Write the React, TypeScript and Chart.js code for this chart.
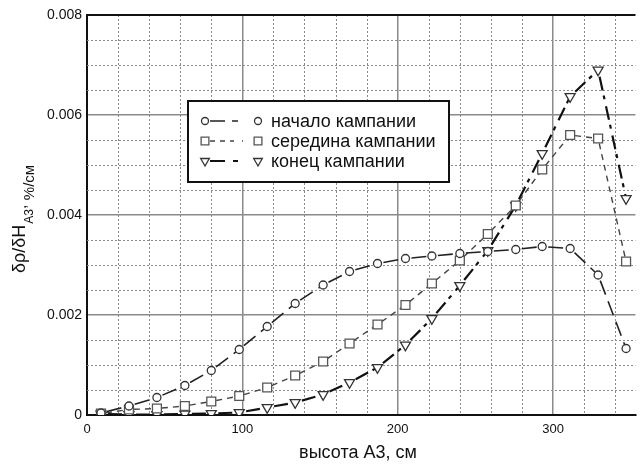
import React, { useEffect, useRef } from 'react';
import { Chart, registerables } from 'chart.js';

Chart.register(...registerables);

// Heights along the A3 zone, cm
const heights = [9, 27, 45, 63, 80, 98, 116, 134, 152, 169, 187, 205, 222, 240, 258, 276, 293, 311, 329, 347];

// dρ/dH_A3 for the three stages of the campaign, %/cm
const startCampaign = [0.00004, 0.00018, 0.00035, 0.00059, 0.00089, 0.00131, 0.00177, 0.00223, 0.0026, 0.00287, 0.00303, 0.00313, 0.00318, 0.00323, 0.00327, 0.00331, 0.00337, 0.00333, 0.0028, 0.00133];
const midCampaign = [0.00003, 0.00011, 0.00013, 0.00018, 0.00027, 0.00038, 0.00055, 0.00079, 0.00107, 0.00143, 0.00181, 0.0022, 0.00263, 0.00309, 0.00362, 0.00419, 0.00491, 0.0056, 0.00553, 0.00307];
const endCampaign = [0.00002, 0.00001, 0.00001, 0.00002, 0.00003, 0.00005, 0.00015, 0.00025, 0.00041, 0.00065, 0.00095, 0.0014, 0.00193, 0.00259, 0.00329, 0.00419, 0.00523, 0.00637, 0.0069, 0.00433];

const seriesNames = ['начало кампании', 'середина кампании', 'конец кампании'];

const xTicks = [0, 100, 200, 300];
const yTicks = [0, 0.002, 0.004, 0.006, 0.008];
const xMinorStep = 20;
const yMinorStep = 0.0005;

const FONT = 'Arial, "Liberation Sans", sans-serif';
const INK = '#111';
const GRID = '#8a8a8a';

type Marker = 'circle' | 'rect' | 'triangleDown';

const seriesStyles = [
  { marker: 'circle' as Marker, radius: 4, line: '#222', lineWidth: 1.6, dash: [15, 7], dashLead: 6, point: '#333', legendDash: [15, 7, 6, 200] },
  { marker: 'rect' as Marker, radius: 6.3, line: '#444', lineWidth: 1.4, dash: [6, 5], dashLead: 5, point: '#555', legendDash: [5, 5, 5, 5, 4, 8, 1, 200] },
  { marker: 'triangleDown' as Marker, radius: 5.8, line: '#111', lineWidth: 2.2, dash: [14, 5, 4, 7], dashLead: 7, point: '#333', legendDash: [15, 8, 5, 200] },
];

function drawMarker(ctx: CanvasRenderingContext2D, kind: Marker, x: number, y: number, r: number, color: string) {
  ctx.save();
  ctx.setLineDash([]);
  ctx.fillStyle = '#fff';
  ctx.strokeStyle = color;
  ctx.lineWidth = 1.3;
  ctx.beginPath();
  if (kind === 'circle') {
    ctx.arc(x, y, r, 0, Math.PI * 2);
  } else if (kind === 'rect') {
    const s = r * Math.SQRT1_2;
    ctx.rect(x - s, y - s, 2 * s, 2 * s);
  } else {
    const w = r * Math.cos(Math.PI / 6);
    ctx.moveTo(x, y + r);
    ctx.lineTo(x - w, y - r / 2);
    ctx.lineTo(x + w, y - r / 2);
    ctx.closePath();
  }
  ctx.fill();
  ctx.stroke();
  ctx.restore();
}

const decorPlugin = {
  id: 'decor',
  beforeDatasetsDraw(chart: any) {
    const { ctx, chartArea: a, scales } = chart;
    const x = scales.x;
    const y = scales.y;
    ctx.save();
    // dotted minor grid
    ctx.strokeStyle = GRID;
    ctx.lineWidth = 1;
    ctx.setLineDash([2, 2]);
    for (let i = 1; i * xMinorStep < x.max; i++) {
      const v = i * xMinorStep;
      if (v % 100 === 0) continue;
      const px = Math.round(x.getPixelForValue(v)) + 0.5;
      ctx.beginPath();
      ctx.moveTo(px, a.top);
      ctx.lineTo(px, a.bottom);
      ctx.stroke();
    }
    for (let i = 1; i * yMinorStep < y.max - 1e-9; i++) {
      if (i % 4 === 0) continue;
      const py = Math.round(y.getPixelForValue(i * yMinorStep)) + 0.5;
      ctx.beginPath();
      ctx.moveTo(a.left, py);
      ctx.lineTo(a.right, py);
      ctx.stroke();
    }
    // frame line along the top
    ctx.setLineDash([]);
    ctx.strokeStyle = INK;
    ctx.lineWidth = 2;
    ctx.beginPath();
    ctx.moveTo(a.left, a.top);
    ctx.lineTo(a.right, a.top);
    ctx.stroke();
    ctx.restore();
  },
  afterDatasetsDraw(chart: any) {
    const { ctx, chartArea: a } = chart;
    ctx.save();

    // legend box
    const bx = a.left + 101;
    const by = a.top + 86;
    const bw = 261;
    const bh = 81;
    ctx.fillStyle = '#fff';
    ctx.fillRect(bx, by, bw, bh);
    ctx.strokeStyle = INK;
    ctx.lineWidth = 2;
    ctx.strokeRect(bx, by, bw, bh);

    seriesStyles.forEach((s, i) => {
      const ry = by + 20 + i * 20;
      const m1 = bx + 17;
      const m2 = bx + 70;
      ctx.save();
      ctx.strokeStyle = s.line;
      ctx.lineWidth = s.lineWidth;
      ctx.setLineDash(s.legendDash);
      ctx.beginPath();
      ctx.moveTo(m1 + 5, ry);
      ctx.lineTo(m2 - 5, ry);
      ctx.stroke();
      ctx.restore();
      const mr = s.marker === 'circle' ? 3.5 : s.marker === 'rect' ? 5.5 : 5;
      drawMarker(ctx, s.marker, m1, ry, mr, s.point);
      drawMarker(ctx, s.marker, m2, ry, mr, s.point);
      ctx.fillStyle = INK;
      ctx.font = `18px ${FONT}`;
      ctx.textAlign = 'left';
      ctx.textBaseline = 'middle';
      ctx.fillText(seriesNames[i], bx + 83, ry + 1);
    });

    ctx.restore();
  },
  afterDraw(chart: any) {
    const { ctx, chartArea: a } = chart;
    ctx.save();
    ctx.fillStyle = INK;

    // x axis title
    ctx.font = `18px ${FONT}`;
    ctx.textAlign = 'center';
    ctx.textBaseline = 'middle';
    ctx.fillText('высота А3, см', a.left + 271, a.bottom + 38);

    // y axis title with subscript, rotated
    ctx.translate(25, 273);
    ctx.rotate(-Math.PI / 2);
    ctx.textAlign = 'left';
    ctx.textBaseline = 'alphabetic';
    ctx.font = `18px ${FONT}`;
    const main = 'δρ/δH';
    ctx.fillText(main, 0, 0);
    let cx = ctx.measureText(main).width + 1;
    ctx.font = `12px ${FONT}`;
    ctx.fillText('A3', cx, 8);
    cx += ctx.measureText('A3').width;
    ctx.font = `16px ${FONT}`;
    ctx.fillText(',', cx, 1);
    cx += ctx.measureText(', ').width;
    ctx.font = `15px ${FONT}`;
    ctx.fillText('%/см', cx, 9);

    ctx.restore();
  },
};

function seriesData(values: number[]) {
  return heights.map((h, i) => ({ x: h, y: values[i] }));
}

export default function App() {
  const canvasRef = useRef<HTMLCanvasElement | null>(null);

  useEffect(() => {
    const canvas = canvasRef.current;
    if (!canvas) return;

    const allValues = [startCampaign, midCampaign, endCampaign];
    const datasets = allValues.map((vals, i) => {
      const s = seriesStyles[i];
      return {
        label: seriesNames[i],
        data: seriesData(vals),
        borderColor: s.line,
        borderWidth: s.lineWidth,
        borderDash: s.dash,
        // each segment is stroked on its own so the dash pattern restarts at every marker
        segment: {
          borderDashOffset: (c: any) => -s.dashLead - c.p0DataIndex * 1e-4,
        },
        pointStyle: s.marker === 'triangleDown' ? 'triangle' : s.marker,
        rotation: s.marker === 'triangleDown' ? 180 : 0,
        pointRadius: s.radius,
        pointBorderWidth: 1.3,
        pointBorderColor: s.point,
        pointBackgroundColor: '#fff',
        fill: false,
        tension: 0,
      };
    });

    const chart = new Chart(canvas, {
      type: 'line',
      data: { datasets },
      plugins: [decorPlugin],
      options: {
        animation: false,
        responsive: false,
        devicePixelRatio: 1,
        layout: { padding: { top: 15, right: 0, bottom: 0, left: 0 } },
        plugins: { legend: { display: false }, tooltip: { enabled: false } },
        scales: {
          x: {
            type: 'linear',
            min: 0,
            max: 353,
            afterBuildTicks: (sc: any) => {
              sc.ticks = xTicks.map((v) => ({ value: v }));
            },
            afterFit: (sc: any) => {
              sc.height = 55;
            },
            grid: { color: GRID, lineWidth: 1.5, drawTicks: false },
            border: { color: INK, width: 2 },
            ticks: {
              color: INK,
              font: { family: FONT, size: 13 },
              padding: 7,
              maxRotation: 0,
              autoSkip: false,
              callback: (v: any) => String(v),
            },
          },
          y: {
            type: 'linear',
            min: 0,
            max: 0.008,
            afterBuildTicks: (sc: any) => {
              sc.ticks = yTicks.map((v) => ({ value: v }));
            },
            afterFit: (sc: any) => {
              sc.width = 87;
            },
            grid: { color: GRID, lineWidth: 1.5, drawTicks: false },
            border: { color: INK, width: 2 },
            ticks: {
              color: INK,
              font: { family: FONT, size: 14 },
              padding: 5,
              autoSkip: false,
              callback: (v: any) => (v === 0 ? '0' : Number(v).toFixed(3)),
            },
          },
        },
      } as any,
    });

    return () => chart.destroy();
  }, []);

  return (
    <div style={{ position: 'fixed', left: 0, top: 0, width: 643, height: 470, background: '#fff' }}>
      <canvas ref={canvasRef} width={643} height={470} style={{ display: 'block' }} />
    </div>
  );
}
